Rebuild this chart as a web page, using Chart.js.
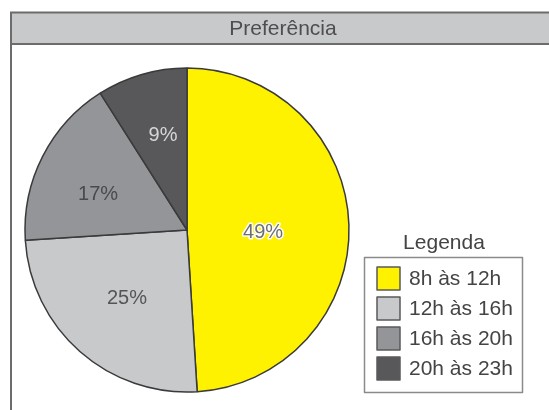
<!DOCTYPE html>
<html>
<head>
<meta charset="utf-8">
<title>Preferência</title>
<script src="https://cdn.jsdelivr.net/npm/chart.js@4/dist/chart.umd.min.js"></script>
<style>
  html, body { margin: 0; padding: 0; background: #fff; }
  #wrap { position: relative; width: 549px; height: 410px; }
</style>
</head>
<body>
<div id="wrap"><canvas id="myChart" width="549" height="410"></canvas></div>
<script>
// dados do gráfico
const faixas = ['8h às 12h', '12h às 16h', '16h às 20h', '20h às 23h'];
const percentuais = [49, 25, 17, 9];
const titulo = 'Preferência';
const tituloLegenda = 'Legenda';

const cores = ['#fff200', '#c8c9cb', '#939598', '#58585a'];
const coresTexto = ['#6e6e6e', '#555557', '#4a4a4c', '#d6d6d6'];
// posicao do rotulo dentro da fatia: fracao do raio e fracao do angulo
const raioRotulo = [0.47, 0.56, 0.59, 0.6];
const anguloRotulo = [0.52, 0.5, 0.41, 0.56];

const fonte = '"Liberation Sans", Arial, sans-serif';

// moldura e faixa do titulo
const moldura = {
    id: 'moldura',
    beforeDraw(chart) {
        const ctx = chart.ctx;
        ctx.save();
        ctx.fillStyle = '#c8c9cb';
        ctx.fillRect(11, 12, 545, 32);
        ctx.strokeStyle = '#6c6c6c';
        ctx.lineWidth = 2;
        ctx.beginPath();
        ctx.moveTo(11, 412);
        ctx.lineTo(11, 12.5);
        ctx.lineTo(552, 12.5);
        ctx.moveTo(11, 44);
        ctx.lineTo(552, 44);
        ctx.stroke();

        ctx.fillStyle = '#4e4e50';
        ctx.font = '21px ' + fonte;
        ctx.textAlign = 'center';
        ctx.textBaseline = 'middle';
        ctx.fillText(titulo, 283, 29);
        ctx.restore();
    }
};

// rotulos de porcentagem e legenda
const rotulos = {
    id: 'rotulos',
    afterDraw(chart) {
        const ctx = chart.ctx;
        const meta = chart.getDatasetMeta(0);
        ctx.save();
        ctx.font = '20px ' + fonte;
        ctx.textAlign = 'center';
        ctx.textBaseline = 'middle';
        meta.data.forEach(function(arc, i) {
            const p = arc.getProps(['x', 'y', 'startAngle', 'endAngle', 'outerRadius'], true);
            const ang = p.startAngle + (p.endAngle - p.startAngle) * anguloRotulo[i];
            const r = p.outerRadius * raioRotulo[i];
            const x = p.x + Math.cos(ang) * r;
            const y = p.y + Math.sin(ang) * r;
            const txt = chart.data.datasets[0].data[i] + '%';
            if (i === 0) {
                ctx.strokeStyle = '#ffffff';
                ctx.lineWidth = 3;
                ctx.lineJoin = 'round';
                ctx.strokeText(txt, x, y);
            }
            ctx.fillStyle = coresTexto[i];
            ctx.fillText(txt, x, y);
        });

        // legenda
        ctx.fillStyle = '#444446';
        ctx.font = '21px ' + fonte;
        ctx.fillText(tituloLegenda, 444, 243);

        ctx.strokeStyle = '#8a8a8a';
        ctx.lineWidth = 1.5;
        ctx.strokeRect(364.5, 257.5, 158, 135);

        ctx.textAlign = 'left';
        chart.data.labels.forEach(function(lbl, i) {
            const y = 267 + i * 30;
            ctx.fillStyle = cores[i];
            ctx.fillRect(377, y, 23, 23);
            ctx.strokeStyle = '#5a5a5a';
            ctx.lineWidth = 1.5;
            ctx.strokeRect(377, y, 23, 23);
            ctx.fillStyle = '#444446';
            ctx.fillText(lbl, 409, y + 12);
        });
        ctx.restore();
    }
};

new Chart(document.getElementById('myChart'), {
    type: 'pie',
    data: {
        labels: faixas,
        datasets: [{
            data: percentuais,
            backgroundColor: cores,
            borderColor: '#3a3a3a',
            borderWidth: 1.5
        }]
    },
    options: {
        responsive: false,
        animation: false,
        radius: 162,
        layout: { padding: { left: 20, right: 195, top: 64, bottom: 14 } },
        plugins: {
            legend: { display: false },
            title: { display: false },
            tooltip: { enabled: false }
        }
    },
    plugins: [moldura, rotulos]
});
</script>
</body>
</html>
